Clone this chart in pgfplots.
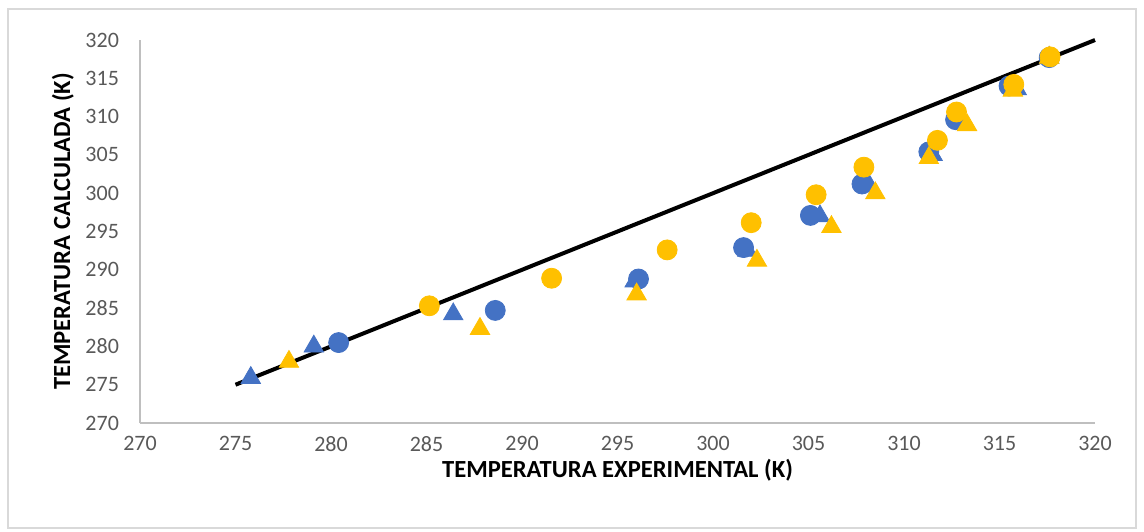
\documentclass[border=0pt]{standalone}
\usepackage{fontspec}
\setmainfont{Carlito}
\usepackage{pgfplots}
\pgfplotsset{compat=1.18}
\definecolor{exblue}{HTML}{4472C4}
\definecolor{exyellow}{HTML}{FFC000}
\definecolor{axgray}{HTML}{BFBFBF}
\definecolor{txtgray}{HTML}{595959}
\definecolor{framegray}{HTML}{D9D9D9}
\begin{document}
\begin{tikzpicture}
\path[use as bounding box] (0,0) rectangle (572pt,265.5pt);
\draw[framegray, line width=0.75pt] (4pt,1.5pt) rectangle (568pt,261pt);
\begin{axis}[
  at={(70pt,54pt)}, anchor=south west,
  scale only axis, width=477.5pt, height=191.5pt,
  xmin=270, xmax=320, ymin=270, ymax=320,
  xtick={270,275,...,320}, ytick={270,275,...,320},
  axis x line*=bottom, axis y line*=left,
  axis line style={axgray, line width=0.75pt},
  major tick length=0pt,
  /pgf/number format/assume math mode=true,
  tick label style={font=\fontsize{11}{13}\selectfont, text=txtgray},
  yticklabel style={xshift=-7pt},
  xticklabel style={yshift=-3pt},
  xlabel={\textbf{TEMPERATURA EXPERIMENTAL (K)}},
  ylabel={\textbf{TEMPERATURA CALCULADA (K)}},
  label style={font=\fontsize{12.3}{14}\selectfont},
  xlabel style={yshift=3pt},
  ylabel style={yshift=-1pt},
  clip=false,
]
\addplot[black, line width=2pt] coordinates {(275,275) (320,320)};
\addplot[only marks, mark=*, mark size=5pt, color=exblue, mark options={draw=exblue, fill=exblue}] coordinates {
(280.4,280.5) (288.6,284.7) (296.1,288.8) (301.6,292.9) (305.1,297.1)
(307.8,301.2) (311.3,305.4) (312.7,309.6) (315.5,314.0) (317.6,317.7)};
\addplot[only marks, mark=triangle*, mark size=5.6pt, color=exblue, mark options={draw=exblue, fill=exblue}] coordinates {
(275.8,275.9) (279.1,280.0) (286.4,284.2) (295.9,288.5) (301.8,292.5)
(305.6,297.0) (308.2,300.9) (311.5,305.0) (313.0,309.3) (315.9,313.6) (317.6,317.7)};
\addplot[only marks, mark=*, mark size=5pt, color=exyellow, mark options={draw=exyellow, fill=exyellow}] coordinates {
(285.15,285.3) (291.55,288.9) (297.6,292.6) (302.0,296.15) (305.4,299.8)
(307.9,303.4) (311.75,306.9) (312.75,310.6) (315.75,314.2) (317.65,317.8)};
\addplot[only marks, mark=triangle*, mark size=5.6pt, color=exyellow, mark options={draw=exyellow, fill=exyellow}] coordinates {
(277.8,278.0) (287.8,282.3) (296.0,286.8) (302.3,291.2) (306.2,295.6)
(308.5,300.0) (311.3,304.6) (313.3,308.9) (315.7,313.4) (317.6,317.7)};
\end{axis}
\end{tikzpicture}
\end{document}
